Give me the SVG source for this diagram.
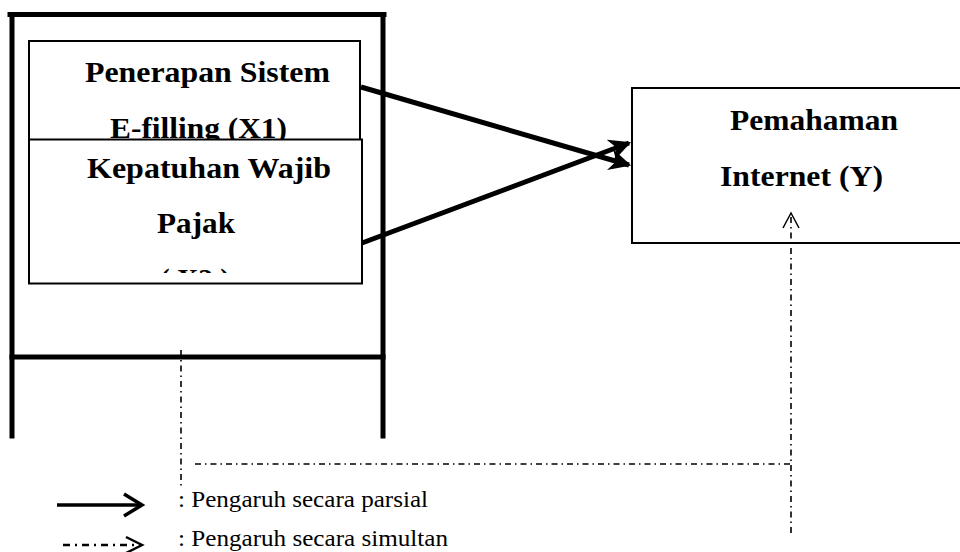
<svg xmlns="http://www.w3.org/2000/svg" width="960" height="552" viewBox="0 0 960 552">
  <defs>
    <style>
      .bg { fill: #ffffff; }
      .frame { stroke: #000; stroke-width: 5; fill: none; stroke-linecap: square; }
      .box { fill: #ffffff; stroke: #000; stroke-width: 2; }
      .title { font-family: "Liberation Serif", "Times New Roman", serif; font-weight: bold; font-size: 30px; fill: #000; }
      .legend { font-family: "Liberation Serif", "Times New Roman", serif; font-size: 23px; fill: #000; }
      .solid { stroke: #000; stroke-width: 5; fill: none; }
      .dashdot { stroke: #000; stroke-width: 1.6; fill: none; stroke-dasharray: 6 4 1.5 4; }
      .open { stroke: #000; fill: none; stroke-linejoin: miter; }
    </style>
    <marker id="heavy" viewBox="0 0 10 10" refX="9" refY="5" markerWidth="4.4" markerHeight="4.4" markerUnits="strokeWidth" orient="auto">
      <path d="M0,0 L10,5 L0,10 L3,5 z" fill="#000"/>
    </marker>
    <clipPath id="clipX2">
      <rect x="28" y="139" width="334" height="134"/>
    </clipPath>
  </defs>

  <rect class="bg" x="0" y="0" width="960" height="552"/>

  <g id="frame">
    <line class="frame" x1="10" y1="14.5" x2="384" y2="14.5"/>
    <line class="frame" x1="12" y1="14.5" x2="12" y2="436"/>
    <line class="frame" x1="383" y1="14.5" x2="383" y2="436"/>
    <line class="frame" x1="12" y1="357" x2="383" y2="357"/>
  </g>

  <g id="node-x1">
    <rect class="box" x="29" y="41" width="331" height="100"/>
    <text class="title" x="85" y="82" textLength="245" lengthAdjust="spacingAndGlyphs">Penerapan Sistem</text>
    <text class="title" x="110" y="138" textLength="177" lengthAdjust="spacingAndGlyphs">E-filling (X1)</text>
  </g>

  <g id="node-x2">
    <rect class="box" x="29" y="139.5" width="333" height="144"/>
    <g clip-path="url(#clipX2)">
      <text class="title" x="87" y="178" textLength="244" lengthAdjust="spacingAndGlyphs">Kepatuhan Wajib</text>
      <text class="title" x="157" y="233" textLength="78" lengthAdjust="spacingAndGlyphs">Pajak</text>
      <text class="title" x="160" y="289" textLength="70" lengthAdjust="spacingAndGlyphs">( X2 )</text>
    </g>
  </g>

  <g id="node-y">
    <rect class="box" x="632" y="88" width="340" height="155"/>
    <text class="title" x="730" y="130" textLength="168" lengthAdjust="spacingAndGlyphs">Pemahaman</text>
    <text class="title" x="720" y="186" textLength="163" lengthAdjust="spacingAndGlyphs">Internet (Y)</text>
  </g>

  <g id="connectors">
    <line class="solid" x1="361" y1="87" x2="629" y2="165" marker-end="url(#heavy)"/>
    <line class="solid" x1="362" y1="243" x2="629" y2="143" marker-end="url(#heavy)"/>
    <polyline class="dashdot" points="181,350 181,488"/>
    <polyline class="dashdot" points="195,464 791,464"/>
    <polyline class="dashdot" points="791,533 791,216"/>
    <polyline class="open" stroke-width="1.5" points="783,228 791,213 799,228"/>
  </g>

  <g id="legend">
    <line x1="57" y1="505" x2="141" y2="505" stroke="#000" stroke-width="3.5"/>
    <polyline class="open" stroke-width="3.5" points="124,494 142,505 124,516"/>
    <text class="legend" x="178" y="507" textLength="250" lengthAdjust="spacingAndGlyphs">: Pengaruh secara parsial</text>
    <line x1="63" y1="545" x2="141" y2="545" stroke="#000" stroke-width="2.5" stroke-dasharray="7 5 2 5"/>
    <polyline class="open" stroke-width="2.5" points="126,537 142,545 126,553"/>
    <text class="legend" x="178" y="546" textLength="270" lengthAdjust="spacingAndGlyphs">: Pengaruh secara simultan</text>
  </g>
</svg>
